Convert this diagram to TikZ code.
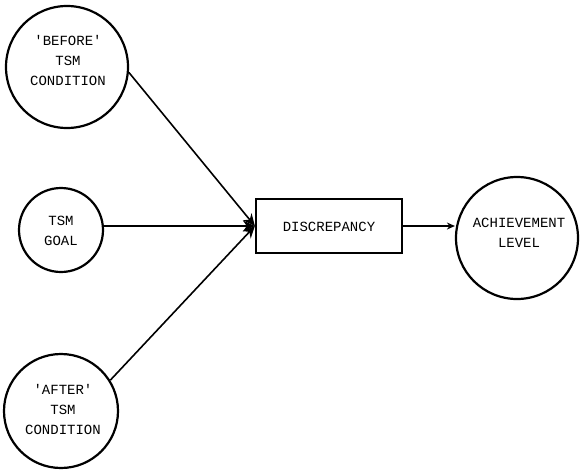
\documentclass[tikz,border=0pt]{standalone}
\usepackage{fontspec}
\setmonofont{Liberation Mono}
\usetikzlibrary{arrows.meta}
\begin{document}
\begin{tikzpicture}[x=1pt,y=-1pt,
  lbl/.style={font=\ttfamily\fontsize{14}{20}\selectfont, align=center, inner sep=0pt},
  circ/.style={circle, draw, line width=2.2pt, inner sep=0pt},
  conn/.style={line width=1.6pt},
  tip/.style={-{Stealth[length=12pt,width=11pt]}},
  smalltip/.style={-{Stealth[length=8pt,width=7pt]}}]
\useasboundingbox (0,0) rectangle (580,471);
\node[circ, minimum size=122pt] (before) at (67,67) {};
\node[lbl] (beforet) at (68,60) {'BEFORE'\\TSM\\CONDITION};
\node[circ, minimum size=84pt] (goal) at (61,230) {};
\node[lbl] (goalt) at (61,231) {TSM\\GOAL};
\node[circ, minimum size=114pt] (after) at (61,411) {};
\node[lbl] (aftert) at (63,409) {'AFTER'\\TSM\\CONDITION};
\node[draw, line width=2.2pt, minimum width=146pt, minimum height=54pt, inner sep=0pt] (disc) at (329,226) {};
\node[lbl] (disct) at (329,227) {DISCREPANCY};
\node[circ, minimum size=122pt] (ach) at (517,238) {};
\node[lbl] (acht) at (519,233) {ACHIEVEMENT\\LEVEL};
\coordinate (conv) at (disc.west);
\draw[conn,tip] (before.-5) -- (conv);
\draw[conn,tip] (goal.east |- conv) -- (conv);
\draw[conn,tip] (after.32) -- (conv);
\draw[conn,smalltip] (disc.east) -- (ach.west |- disc.east);
\end{tikzpicture}
\end{document}
